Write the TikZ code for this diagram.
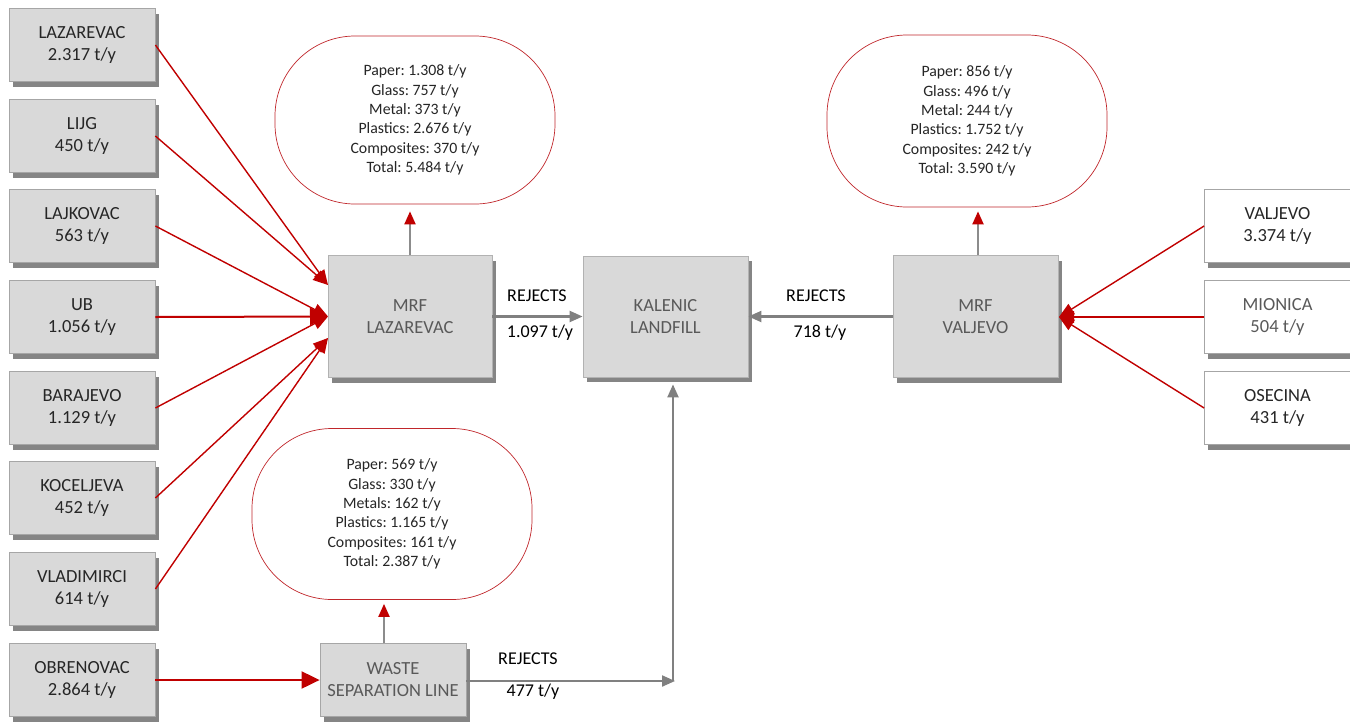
\documentclass[tikz,border=0pt]{standalone}
\usepackage{fontspec}
\setmainfont{Carlito}
\usetikzlibrary{arrows.meta,shadows,calc}
\definecolor{boxgray}{HTML}{D9D9D9}
\definecolor{linered}{HTML}{C00000}
\definecolor{cloudred}{HTML}{C0262B}
\definecolor{txtdark}{HTML}{262626}
\definecolor{txtgray}{HTML}{595959}
\frenchspacing
\begin{document}
\begin{tikzpicture}[x=1pt,y=-1pt,
  shadowed/.style={drop shadow={shadow xshift=3.5pt, shadow yshift=-5pt, fill=black!80, opacity=0.6}},
  box/.style={shadowed, draw=black!35, line width=0.8pt, fill=boxgray, minimum width=146pt, minimum height=73pt,
    align=center, inner sep=2pt, font=\fontsize{18.5}{22}\selectfont, text=txtdark},
  whitebox/.style={box, fill=white},
  bigbox/.style={shadowed, draw=black!30, line width=0.8pt, fill=boxgray, minimum width=164pt, minimum height=122pt,
    align=center, font=\fontsize{18.5}{22}\selectfont, text=txtgray},
  cloudbox/.style={draw=cloudred, line width=0.7pt, fill=white, rounded corners=80pt, minimum width=280pt,
    minimum height=170pt, align=center, font=\fontsize{15.8}{19.3}\selectfont, text=txtdark},
  lbl/.style={font=\fontsize{18}{20}\selectfont, text=black, inner sep=0pt},
  redarrow/.style={draw=linered, line width=1.4pt, -{Triangle[length=15pt,width=12pt]}},
  bigred/.style={draw=linered, line width=2pt, -{Triangle[length=18pt,width=17pt]}},
  grayarrow/.style={draw=black!50, line width=2.2pt, -{Triangle[length=13pt,width=11pt]}},
  uparrow/.style={draw=black!45, line width=2pt, -{Triangle[length=13pt,width=11pt,fill=linered,color=linered]}}
]
\useasboundingbox (0,0) rectangle (1350,721);

% left source boxes
\node[box] (laz) at (82,45)  {LAZAREVAC\\2.317 t/y};
\node[box] (lijg) at (82,136) {LIJG\\450 t/y};
\node[box] (lajk) at (82,226) {LAJKOVAC\\563 t/y};
\node[box] (ub) at (82,317) {UB\\1.056 t/y};
\node[box] (bar) at (82,408) {BARAJEVO\\1.129 t/y};
\node[box] (koc) at (82,498) {KOCELJEVA\\452 t/y};
\node[box] (vla) at (82,589) {VLADIMIRCI\\614 t/y};
\node[box] (obr) at (82,680) {OBRENOVAC\\2.864 t/y};

% right source boxes
\node[whitebox] (val) at (1277.5,226) {VALJEVO\\3.374 t/y};
\node[whitebox, text=txtgray] (mio) at (1277.5,317) {MIONICA\\504 t/y};
\node[whitebox] (ose) at (1277.5,408) {OSECINA\\431 t/y};

% central facilities
\node[bigbox] (mrfl) at (410,316.5) {MRF\\LAZAREVAC};
\node[bigbox, minimum width=165pt, minimum height=121pt] (kal) at (665.5,316.5) {KALENIC\\LANDFILL};
\node[bigbox, minimum width=165pt] (mrfv) at (975.5,316.5) {MRF\\VALJEVO};
\node[box, text=txtgray] (wsl) at (393,680) {WASTE\\SEPARATION LINE};

% output clouds
\node[cloudbox, minimum height=168pt] (cl) at (415,120) {Paper: 1.308 t/y\\Glass: 757 t/y\\Metal: 373 t/y\\Plastics: 2.676 t/y\\Composites: 370 t/y\\Total: 5.484 t/y};
\node[cloudbox, minimum height=172pt] (cv) at (967,121) {Paper: 856 t/y\\Glass: 496 t/y\\Metal: 244 t/y\\Plastics: 1.752 t/y\\Composites: 242 t/y\\Total: 3.590 t/y};
\node[cloudbox, minimum height=171pt] (cw) at (392,514) {Paper: 569 t/y\\Glass: 330 t/y\\Metals: 162 t/y\\Plastics: 1.165 t/y\\Composites: 161 t/y\\Total: 2.387 t/y};

% arrival points
\coordinate (inA) at (328,285);
\coordinate (inB) at (328,316.5);
\coordinate (inC) at (328,338);
\coordinate (inV) at (1059,317);
\coordinate (turn) at (675,681);

% red inflows
\draw[redarrow] (laz.east) -- (inA);
\draw[redarrow] (lijg.east) -- (inA);
\draw[redarrow] (lajk.east) -- (inB);
\draw[redarrow] (bar.east) -- (inB);
\draw[bigred] (ub.east) -- (inB);
\draw[redarrow] (koc.east) -- (inC);
\draw[redarrow] (vla.east) -- (inC);
\draw[bigred] (obr.east) -- (wsl.west);
\draw[redarrow] (val.west) -- (inV);
\draw[redarrow] (mio.west) -- (inV);
\draw[redarrow] (ose.west) -- (inV);

% outputs to clouds
\draw[uparrow, shorten >=7pt] (mrfl.north) -- (mrfl.north |- cl.south);
\draw[uparrow, shorten >=4pt] ([xshift=2.5pt]mrfv.north) -- ([xshift=2.5pt]mrfv.north |- cv.south);
\draw[uparrow, shorten >=4pt] ([xshift=-9pt]wsl.north) -- ([xshift=-9pt]wsl.north |- cw.south);

% rejects
\draw[grayarrow] (mrfl.east) -- (kal.west);
\draw[grayarrow] (mrfv.west) -- (kal.east);
\draw[grayarrow] (wsl.east |- turn) -- (turn);
\draw[grayarrow, shorten >=7pt] ([xshift=-2pt]turn) -- ([xshift=-2pt]turn |- kal.south);

% labels
\node[lbl] (r1) at (537,296) {REJECTS};
\node[lbl] (q1) at (540,333) {1.097 t/y};
\node[lbl] (r2) at (816,296) {REJECTS};
\node[lbl] (q2) at (820,333) {718 t/y};
\node[lbl] (r3) at (528,659) {REJECTS};
\node[lbl] (q3) at (533,692) {477 t/y};
\end{tikzpicture}
\end{document}
